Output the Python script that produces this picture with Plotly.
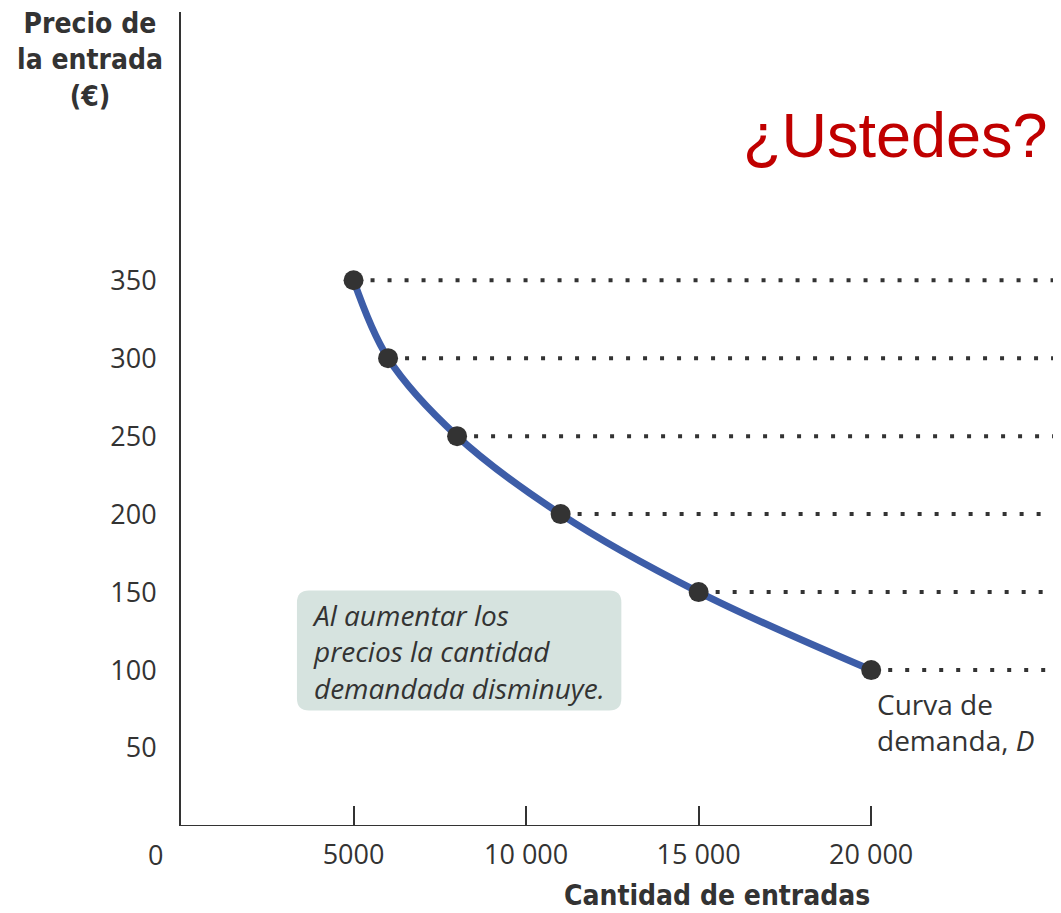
import plotly.graph_objects as go

# demand schedule
quantity = [5000, 6000, 8000, 11000, 15000, 20000]
price = [350, 300, 250, 200, 150, 100]

x_tickvals = [5000, 10000, 15000, 20000]
x_ticktext = ['5000', '10 000', '15 000', '20 000']
y_tickvals = [50, 100, 150, 200, 250, 300, 350]

X_MAX = 25500
Y_MAX = 522

ink = '#333333'
blue = '#3d5da8'
font_body = 'Open Sans, Liberation Sans, sans-serif'
font_bold = 'Liberation Sans Narrow, DejaVu Sans Condensed, Open Sans, sans-serif'

fig = go.Figure()

# dotted guides from each point to the right edge
for q, p in zip(quantity, price):
    fig.add_trace(go.Scatter(x=[q, X_MAX + 2000], y=[p, p], mode='lines',
                             line=dict(color=ink, width=4, dash='4px,13px'),
                             showlegend=False, hoverinfo='skip'))

fig.add_trace(go.Scatter(x=quantity, y=price, mode='lines',
                         line=dict(color=blue, width=7, shape='spline', smoothing=1.0),
                         showlegend=False))
fig.add_trace(go.Scatter(x=quantity, y=price, mode='markers',
                         marker=dict(color=ink, size=20),
                         showlegend=False))

# x axis line only up to 20 000
fig.add_shape(type='line', x0=0, x1=20000, y0=0, y1=0, xref='x', yref='y',
              line=dict(color=ink, width=2))

# rounded note box
x0, x1, y0, y1 = 3360, 12760, 74, 151
rx, ry = 350, 7.7
path = (f'M {x0+rx},{y0} L {x1-rx},{y0} Q {x1},{y0} {x1},{y0+ry} '
        f'L {x1},{y1-ry} Q {x1},{y1} {x1-rx},{y1} L {x0+rx},{y1} '
        f'Q {x0},{y1} {x0},{y1-ry} L {x0},{y0+ry} Q {x0},{y0} {x0+rx},{y0} Z')
fig.add_shape(type='path', path=path, xref='x', yref='y', layer='below',
              fillcolor='#d6e3df', line=dict(width=0))

fig.add_annotation(x=3740, y=112.2, xref='x', yref='y', xanchor='left', yanchor='middle',
                   text='<i>Al aumentar los<br>precios la cantidad<br>demandada disminuye.</i>',
                   showarrow=False, align='left',
                   font=dict(family=font_body, size=28, color=ink))

fig.add_annotation(x=20100, y=66.7, xref='x', yref='y', xanchor='left', yanchor='middle',
                   text='Curva de<br>demanda, <i>D</i>', showarrow=False, align='left',
                   font=dict(family=font_body, size=28, color=ink))

fig.add_annotation(x=-0.1034, y=0.941, xref='paper', yref='paper', xanchor='center',
                   yanchor='middle', text='<b>Precio de<br>la entrada<br>(€)</b>',
                   showarrow=False, font=dict(family=font_bold, size=28, color=ink))
fig.add_annotation(x=0.609, y=-0.0855, xref='paper', yref='paper', xanchor='center',
                   yanchor='middle', text='<b>Cantidad de entradas</b>', showarrow=False,
                   font=dict(family=font_bold, size=28, color=ink))
fig.add_annotation(x=-0.0295, y=-0.0356, xref='paper', yref='paper', xanchor='center',
                   yanchor='middle', text='0', showarrow=False,
                   font=dict(family=font_body, size=27, color=ink))
fig.add_annotation(x=0.9875, y=0.849, xref='paper', yref='paper', xanchor='right',
                   yanchor='middle', text='¿Ustedes?', showarrow=False,
                   font=dict(family='Liberation Sans, Arial, sans-serif', size=63,
                             color='#c00000'))

# page body adds an 8px margin, so the figure is 8px smaller than the window
fig.update_layout(width=1053, height=905, plot_bgcolor='white', paper_bgcolor='white',
                  margin=dict(l=173, r=0, t=4, b=87))

fig.update_xaxes(range=[0, X_MAX], showline=False, showgrid=False, zeroline=False,
                 tickvals=x_tickvals, ticktext=x_ticktext, ticks='inside', ticklen=20,
                 tickwidth=2, tickcolor=ink, ticklabelstandoff=10,
                 tickfont=dict(family=font_body, size=27, color=ink))
fig.update_yaxes(range=[0, Y_MAX], showline=True, linecolor=ink, linewidth=2,
                 showgrid=False, zeroline=False, tickvals=y_tickvals, ticks='',
                 ticklabelstandoff=17,
                 tickfont=dict(family=font_body, size=27, color=ink))

fig.write_html('out.html')
